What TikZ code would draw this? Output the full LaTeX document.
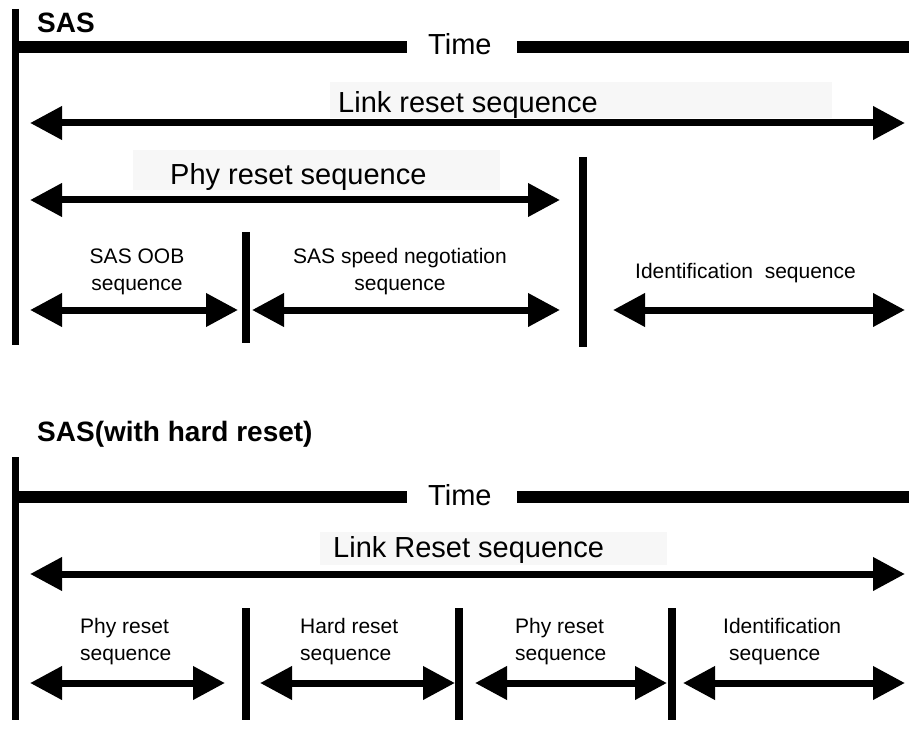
\documentclass[tikz,border=0pt]{standalone}
\usepackage{fontspec}
\setmainfont{Liberation Sans}
\usetikzlibrary{arrows.meta}
\tikzset{
  bigtxt/.style={inner sep=0pt,anchor=base west,font=\fontsize{29}{32}\selectfont},
  titletxt/.style={inner sep=0pt,anchor=base west,font=\fontsize{28}{32}\selectfont\bfseries},
  smalltxt/.style={inner sep=0pt,font=\fontsize{21}{27}\selectfont},
  dblarrow/.style={line width=7pt,{Triangle[length=32pt,width=32pt]}-{Triangle[length=32pt,width=32pt]}},
  axisbar/.style={line width=7pt},
  divider/.style={line width=8pt},
  timebar/.style={line width=12pt},
  patch/.style={fill=black!3,draw=none}
}
\begin{document}
\begin{tikzpicture}[x=1pt,y=-1pt]
\useasboundingbox (0,0) rectangle (909,735);
% ---------------- SAS ----------------
\fill[patch] (330,82) rectangle (832,118);
\fill[patch] (133,150) rectangle (500,190);
\node[titletxt] (t1) at (37,33) {SAS};
\coordinate (a1top) at (15.5,9);
\coordinate (a1bot) at (15.5,345);
\draw[axisbar] (a1top) -- (a1bot);
\node[bigtxt] (time1) at (428,55) {Time};
\coordinate (tb1a) at (15.5,47);
\coordinate (tb1b) at (407,47);
\coordinate (tb1c) at (517,47);
\coordinate (tb1d) at (909,47);
\draw[timebar] (tb1a) -- (tb1b);
\draw[timebar] (tb1c) -- (tb1d);
\node[bigtxt] (link1) at (338,113) {Link reset sequence};
\coordinate (l1a) at (30,123);
\coordinate (l1b) at (905,123);
\draw[dblarrow] (l1a) -- (l1b);
\node[bigtxt] (phy1) at (170,185) {Phy reset sequence};
\coordinate (p1a) at (30,200);
\coordinate (p1b) at (560,200);
\draw[dblarrow] (p1a) -- (p1b);
\coordinate (d1a) at (582.5,157);
\coordinate (d1b) at (582.5,347);
\draw[divider] (d1a) -- (d1b);
\coordinate (d2a) at (246,232);
\coordinate (d2b) at (246,343);
\draw[divider] (d2a) -- (d2b);
\node[smalltxt,align=center,anchor=base] (oob) at (137,290) {SAS OOB\\sequence};
\coordinate (o1a) at (30,310);
\coordinate (o1b) at (238,310);
\draw[dblarrow] (o1a) -- (o1b);
\node[smalltxt,align=center,anchor=base] (spd) at (400,290) {SAS speed negotiation\\sequence};
\coordinate (s1a) at (252,310);
\coordinate (s1b) at (560,310);
\draw[dblarrow] (s1a) -- (s1b);
\node[smalltxt,anchor=base west] (id1) at (635,278) {Identification\ \ sequence};
\coordinate (i1a) at (613,310);
\coordinate (i1b) at (905,310);
\draw[dblarrow] (i1a) -- (i1b);
% ---------------- SAS (with hard reset) ----------------
\fill[patch] (320,532) rectangle (667,565);
\node[titletxt] (t2) at (37,441) {SAS(with hard reset)};
\coordinate (a2top) at (15.5,457);
\coordinate (a2bot) at (15.5,720);
\draw[axisbar] (a2top) -- (a2bot);
\node[bigtxt] (time2) at (428,505) {Time};
\coordinate (tb2a) at (15.5,497);
\coordinate (tb2b) at (407,497);
\coordinate (tb2c) at (517,497);
\coordinate (tb2d) at (909,497);
\draw[timebar] (tb2a) -- (tb2b);
\draw[timebar] (tb2c) -- (tb2d);
\node[bigtxt] (link2) at (333,557) {Link Reset sequence};
\coordinate (l2a) at (30,574);
\coordinate (l2b) at (905,574);
\draw[dblarrow] (l2a) -- (l2b);
\coordinate (e1a) at (246,608);
\coordinate (e1b) at (246,720);
\coordinate (e2a) at (459,608);
\coordinate (e2b) at (459,720);
\coordinate (e3a) at (672,608);
\coordinate (e3b) at (672,720);
\draw[divider] (e1a) -- (e1b);
\draw[divider] (e2a) -- (e2b);
\draw[divider] (e3a) -- (e3b);
\node[smalltxt,align=left,anchor=base west] (ph2) at (80,660) {Phy reset\\sequence};
\node[smalltxt,align=left,anchor=base west] (hr2) at (300,660) {Hard reset\\sequence};
\node[smalltxt,align=left,anchor=base west] (ph3) at (515,660) {Phy reset\\sequence};
\node[smalltxt,align=left,anchor=base west] (id2) at (723,660) {Identification\\\hspace*{6pt}sequence};
\coordinate (q1a) at (30,683);
\coordinate (q1b) at (225,683);
\coordinate (q2a) at (260,683);
\coordinate (q2b) at (455,683);
\coordinate (q3a) at (475,683);
\coordinate (q3b) at (667,683);
\coordinate (q4a) at (683,683);
\coordinate (q4b) at (905,683);
\draw[dblarrow] (q1a) -- (q1b);
\draw[dblarrow] (q2a) -- (q2b);
\draw[dblarrow] (q3a) -- (q3b);
\draw[dblarrow] (q4a) -- (q4b);
\end{tikzpicture}
\end{document}
